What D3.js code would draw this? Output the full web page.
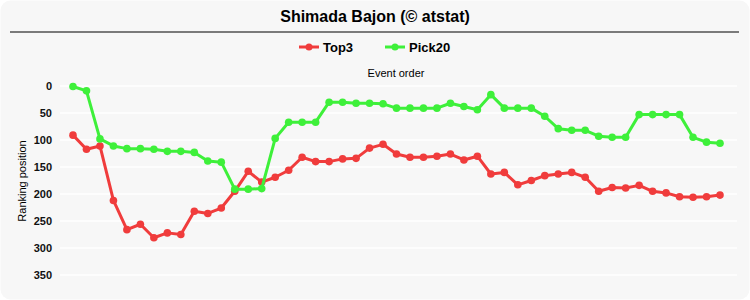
<!DOCTYPE html>
<html>
<head>
<meta charset="utf-8">
<script src="https://cdn.jsdelivr.net/npm/d3@7"></script>
<style>
  html, body { margin: 0; padding: 0; background: #ffffff; }
  svg { display: block; font-family: Arial, "Liberation Sans", sans-serif; }
</style>
</head>
<body>
<svg id="chart" width="750" height="300"></svg>
<script>
const title = "Shimada Bajon (© atstat)";
const seriesNames = ["Top3", "Pick20"];
const seriesColors = ["#f03c3c", "#3ef03a"];
const top3 = [91, 117, 111, 212, 266, 256, 281, 272, 275, 232,
              236, 226, 195, 158, 178, 169, 156, 132, 140, 140,
              135, 134, 115, 108, 126, 132, 132, 130, 126, 137,
              130, 163, 160, 183, 175, 166, 163, 160, 169, 195,
              188, 189, 184, 195, 198, 205, 206, 205, 202];
const pick20 = [1, 9, 98, 111, 116, 116, 117, 121, 121, 123,
                139, 141, 191, 191, 190, 97, 67, 67, 67, 30,
                30, 32, 32, 33, 41, 41, 41, 41, 32, 38,
                44, 16, 41, 41, 41, 56, 79, 82, 82, 93,
                95, 95, 53, 53, 53, 53, 95, 104, 106];
const yTicks = [0, 50, 100, 150, 200, 250, 300, 350];
const xLabel = "Event order";
const yLabel = "Ranking position";

const svg = d3.select("#chart");
const W = 750, H = 300;

// background panel
svg.append("rect").attr("x", 0.5).attr("y", 0.5).attr("width", W - 1).attr("height", H - 1)
  .attr("rx", 10).attr("ry", 10).attr("fill", "#f7f7f7");

// title
svg.append("text").attr("x", 375).attr("y", 22).attr("text-anchor", "middle")
  .attr("font-size", 16).attr("font-weight", "bold").attr("fill", "#000").text(title);
svg.append("line").attr("x1", 10).attr("x2", 739).attr("y1", 32).attr("y2", 32)
  .attr("stroke", "#000").attr("stroke-width", 1.2);

// scales
const n = top3.length;
const x = d3.scaleLinear().domain([1, n]).range([73, 720]);
const y = d3.scaleLinear().domain([0, 350]).range([86, 275]);
const plotLeft = 60, plotRight = 737;

// grid
svg.append("g").selectAll("line").data(yTicks).join("line")
  .attr("x1", plotLeft).attr("x2", plotRight)
  .attr("y1", d => y(d)).attr("y2", d => y(d))
  .attr("stroke", "#ffffff").attr("stroke-width", 1.5);

// y axis
const yAxis = d3.axisLeft(y).tickValues(yTicks).tickSize(0).tickPadding(0);
const gy = svg.append("g").attr("transform", "translate(52,0)").call(yAxis);
gy.select(".domain").remove();
gy.selectAll("text").attr("font-size", 11).attr("font-weight", "bold")
  .attr("fill", "#111").attr("font-family", "Arial, 'Liberation Sans', sans-serif");

svg.append("text").attr("transform", "translate(26,181) rotate(-90)")
  .attr("text-anchor", "middle").attr("font-size", 11).attr("fill", "#000").text(yLabel);
svg.append("text").attr("x", 396).attr("y", 77).attr("text-anchor", "middle")
  .attr("font-size", 11).attr("fill", "#000").text(xLabel);

// legend
const legendItems = [{name: seriesNames[0], color: seriesColors[0], x: 299},
                     {name: seriesNames[1], color: seriesColors[1], x: 385}];
const lg = svg.append("g").selectAll("g").data(legendItems).join("g")
  .attr("transform", d => `translate(${d.x},47)`);
lg.append("line").attr("x1", 0).attr("x2", 20).attr("y1", 0).attr("y2", 0)
  .attr("stroke", d => d.color).attr("stroke-width", 3);
lg.append("circle").attr("cx", 10).attr("cy", 0).attr("r", 3.5).attr("fill", d => d.color);
lg.append("text").attr("x", 24).attr("y", 5).attr("font-size", 13).attr("font-weight", "bold")
  .attr("fill", "#000").text(d => d.name);

// lines
const data = [top3, pick20];
const line = d3.line().x((d, i) => x(i + 1)).y(d => y(d));
data.forEach((vals, k) => {
  svg.append("path").datum(vals).attr("d", line).attr("fill", "none")
    .attr("stroke", seriesColors[k]).attr("stroke-width", 3).attr("stroke-linejoin", "round");
  svg.append("g").selectAll("circle").data(vals).join("circle")
    .attr("cx", (d, i) => x(i + 1)).attr("cy", d => y(d)).attr("r", 3.8)
    .attr("fill", seriesColors[k]);
});
</script>
</body>
</html>
